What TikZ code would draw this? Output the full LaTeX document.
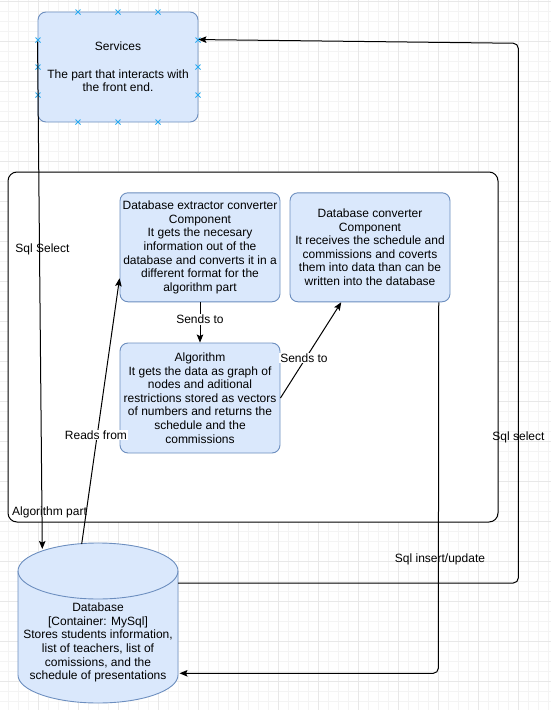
\documentclass[tikz,border=0pt]{standalone}
\usepackage{fontspec}
\setmainfont{Liberation Sans}
\usetikzlibrary{arrows.meta,calc}
\definecolor{boxfill}{HTML}{DAE8FC}
\definecolor{boxline}{HTML}{6C8EBF}
\definecolor{gridminor}{HTML}{F4F4F4}
\definecolor{gridmajor}{HTML}{E8E8E8}
\definecolor{markblue}{RGB}{41,170,240}
\tikzset{
  comp/.style={draw=boxline, fill=boxfill, rounded corners=8pt, line width=0.9pt,
    minimum width=160pt, minimum height=110pt, align=center, inner sep=2pt,
    font=\fontsize{12}{13.6}\selectfont},
  conn/.style={draw=black, line width=1pt, -{Stealth[length=8pt,width=6.5pt,inset=1.5pt]}},
  plainconn/.style={draw=black, line width=1pt},
  lbl/.style={font=\fontsize{12}{13.6}\selectfont, inner sep=1pt},
  lblw/.style={lbl, fill=white},
  xmark/.style={draw=markblue, line width=0.8pt}
}
\begin{document}
\begin{tikzpicture}[x=1pt,y=-1pt]
\useasboundingbox (0,0) rectangle (551,710);
\fill[white] (0,0) rectangle (551,710);
% grid
\foreach \gx in {-1.7,8.3,...,551} \draw[gridminor, line width=0.6pt] (\gx,0) -- (\gx,710);
\foreach \gy in {1.7,11.7,...,710} \draw[gridminor, line width=0.6pt] (0,\gy) -- (551,\gy);
\foreach \gx in {-1.7,38.3,...,551} \draw[gridmajor, line width=0.7pt] (\gx,0) -- (\gx,710);
\foreach \gy in {1.7,41.7,...,710} \draw[gridmajor, line width=0.7pt] (0,\gy) -- (551,\gy);

% container
\node[draw=black, fill=white, line width=1pt, rounded corners=9pt, minimum width=490pt, minimum height=350pt, inner sep=0pt] (algpart) at (253,347) {};
\node[lbl, anchor=west] (algpartlbl) at (11,512) {Algorithm part};

% services
\node[comp, minimum height=110pt] (services) at (118,67) {Services\\[13.6pt]The part that interacts with\\the front end.};
\foreach \mx in {78,118,158} {
  \foreach \my in {12,122} {
    \draw[xmark] (\mx-2.5,\my-2.5) -- (\mx+2.5,\my+2.5) (\mx-2.5,\my+2.5) -- (\mx+2.5,\my-2.5);
  }
}
\foreach \my in {40,67,95} {
  \foreach \mx in {38,198} {
    \draw[xmark] (\mx-2.5,\my-2.5) -- (\mx+2.5,\my+2.5) (\mx-2.5,\my+2.5) -- (\mx+2.5,\my-2.5);
  }
}

% components
\node[comp, minimum height=109pt] (ext) at (200,247.3) {Database extractor converter\\Component\\It gets the necesary\\information out of the\\database and converts it in a\\different format for the\\algorithm part};
\node[comp, minimum height=109pt] (conv) at (370,247.3) {Database converter\\Component\\It receives the schedule and\\commissions and coverts\\them into data than can be\\written into the database};
\node[comp, minimum height=110pt] (alg) at (200,398) {Algorithm\\It gets the data as graph of\\nodes and aditional\\restrictions stored as vectors\\of numbers and returns the\\schedule and the\\commissions};

% database cylinder
\begin{scope}[draw=boxline, fill=boxfill, line width=0.9pt]
\filldraw (18,571) -- (18,675) arc[start angle=180, end angle=360, x radius=80pt, y radius=28pt]
  -- (178,571) arc[start angle=0, end angle=180, x radius=80pt, y radius=28pt] -- cycle;
\draw (18,571) arc[start angle=180, end angle=360, x radius=80pt, y radius=28pt];
\end{scope}
\node[lbl, align=center] (db) at (98,642.5) {Database\\{}{[Container: MySql]}\\Stores students information,\\list of teachers, list of\\comissions, and the\\schedule of presentations};
\coordinate (dbtopA) at (42.3,549);
\coordinate (dbtopB) at (81.7,544);
\coordinate (dbright) at (178,583);
\coordinate (dbin) at (179.5,673.3);

% connectors
\coordinate (svcexit) at ([yshift=-30pt]services.north west);
\draw[conn] (svcexit) -- (dbtopA);
\node[lbl] (sqlsel1) at (42.5,249) {Sql Select};

\draw[conn] (dbtopB) -- ([yshift=24pt]ext.south west);
\node[lblw] (readsfrom) at (96,435) {Reads from};

\draw[conn] (ext.south) -- (alg.north);
\node[lblw] (sends1) at (200,319.5) {Sends to};

\draw[conn] (alg.east) -- ([xshift=51.7pt]conv.south west);
\node[lblw] (sends2) at (304,358) {Sends to};

\draw[conn, rounded corners=5pt] ([xshift=-11.7pt]conv.south east) -- (438.3,673.3) -- (dbin);
\node[lbl] (sqlins) at (440,559.5) {Sql insert/update};

\draw[conn, rounded corners=5pt] (dbright) -- (518.3,583) -- (518.3,43.3) -- ([yshift=-28pt]services.north east);
\node[lbl] (sqlsel2) at (518.5,437) {Sql select};
\end{tikzpicture}
\end{document}
